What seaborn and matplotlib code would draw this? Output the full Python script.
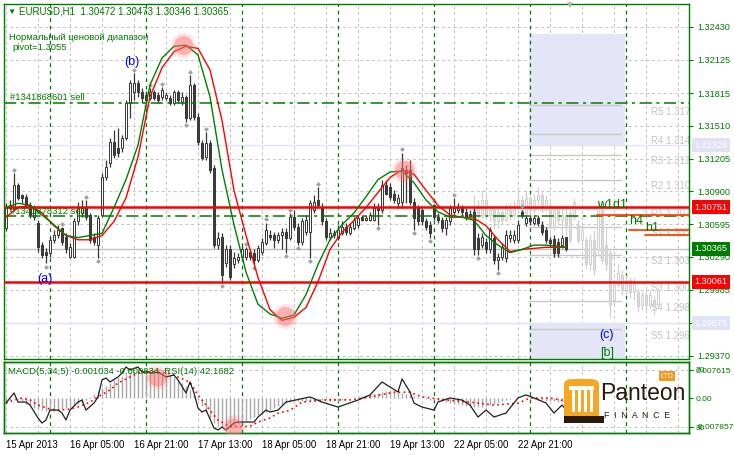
import numpy as np
import seaborn as sns
import matplotlib.pyplot as plt
from matplotlib.patches import Rectangle, FancyBboxPatch

# --- dados do gráfico (EURUSD H1) ---
price_ticks = [1.32430, 1.32125, 1.31815, 1.31510, 1.31205, 1.30900,
               1.30595, 1.30290, 1.29985, 1.29675, 1.29370]
date_tick_bars = [0, 16, 32, 48, 64, 80, 96, 112, 128]
date_tick_labels = ['15 Apr 2013', '16 Apr 05:00', '16 Apr 21:00', '17 Apr 13:00',
                    '18 Apr 05:00', '18 Apr 21:00', '19 Apr 13:00', '22 Apr 05:00',
                    '22 Apr 21:00']
day_start_bars = [11, 35, 59, 83, 107, 131, 155]

opens = [1.3056, 1.3075, 1.3075, 1.3096, 1.3087, 1.3085, 1.3077, 1.3066, 1.3061, 1.3040,
         1.3034, 1.3033, 1.3045, 1.3049, 1.3056, 1.3048, 1.3029, 1.3029, 1.3062, 1.3070,
         1.3075, 1.3068, 1.3048, 1.3040, 1.3068, 1.3103, 1.3116, 1.3136, 1.3130, 1.3130,
         1.3140, 1.3172, 1.3182, 1.3191, 1.3182, 1.3180, 1.3177, 1.3182, 1.3180, 1.3178,
         1.3177, 1.3177, 1.3172, 1.3182, 1.3173, 1.3178, 1.3158, 1.3189, 1.3159, 1.3135,
         1.3122, 1.3135, 1.3112, 1.3040, 1.3048, 1.3023, 1.3036, 1.3022, 1.3026, 1.3029,
         1.3029, 1.3034, 1.3033, 1.3026, 1.3034, 1.3042, 1.3049, 1.3049, 1.3045, 1.3049,
         1.3052, 1.3047, 1.3066, 1.3057, 1.3043, 1.3052, 1.3052, 1.3073, 1.3082, 1.3075,
         1.3062, 1.3048, 1.3049, 1.3047, 1.3051, 1.3057, 1.3051, 1.3056, 1.3059, 1.3066,
         1.3063, 1.3063, 1.3063, 1.3075, 1.3073, 1.3096, 1.3094, 1.3088, 1.3079, 1.3080,
         1.3110, 1.3110, 1.3080, 1.3075, 1.3073, 1.3062, 1.3059, 1.3077, 1.3066, 1.3063,
         1.3056, 1.3062, 1.3071, 1.3073, 1.3075, 1.3071, 1.3069, 1.3071, 1.3047, 1.3040,
         1.3043, 1.3036, 1.3047, 1.3026, 1.3029, 1.3028, 1.3047, 1.3045, 1.3045, 1.3071,
         1.3061, 1.3065, 1.3061, 1.3065, 1.3059, 1.3054, 1.3045, 1.3046, 1.3043, 1.3040,
         1.30472]
highs = [1.3079, 1.3082, 1.3107, 1.3098, 1.3088, 1.3088, 1.3080, 1.3077, 1.3063, 1.3043,
         1.3037, 1.3048, 1.3054, 1.3059, 1.3057, 1.3051, 1.3042, 1.3065, 1.3080, 1.3082,
         1.3082, 1.3070, 1.3051, 1.3068, 1.3107, 1.3119, 1.3140, 1.3147, 1.3149, 1.3142,
         1.3175, 1.3194, 1.3200, 1.3194, 1.3186, 1.3183, 1.3186, 1.3184, 1.3182, 1.3187,
         1.3182, 1.3180, 1.3184, 1.3184, 1.3182, 1.3180, 1.3198, 1.3191, 1.3163, 1.3138,
         1.3145, 1.3138, 1.3115, 1.3052, 1.3051, 1.3040, 1.3040, 1.3034, 1.3033, 1.3040,
         1.3038, 1.3036, 1.3036, 1.3040, 1.3047, 1.3061, 1.3054, 1.3052, 1.3052, 1.3056,
         1.3056, 1.3070, 1.3073, 1.3061, 1.3065, 1.3068, 1.3082, 1.3087, 1.3094, 1.3079,
         1.3065, 1.3056, 1.3054, 1.3059, 1.3062, 1.3061, 1.3061, 1.3066, 1.3068, 1.3068,
         1.3068, 1.3071, 1.3079, 1.3079, 1.3101, 1.3101, 1.3098, 1.3091, 1.3088, 1.3126,
         1.3115, 1.3119, 1.3084, 1.3077, 1.3075, 1.3065, 1.3062, 1.3078, 1.3070, 1.3066,
         1.3066, 1.3077, 1.3084, 1.3079, 1.3077, 1.3075, 1.3073, 1.3075, 1.3051, 1.3051,
         1.3047, 1.3057, 1.3049, 1.3033, 1.3042, 1.3054, 1.3054, 1.3054, 1.3063, 1.3073,
         1.3068, 1.3068, 1.3068, 1.3068, 1.3062, 1.3057, 1.3048, 1.3049, 1.3047, 1.3049,
         1.30473]
lows = [1.3053, 1.3073, 1.3073, 1.3082, 1.3079, 1.3075, 1.3065, 1.3063, 1.3034, 1.3028,
        1.3023, 1.3029, 1.3042, 1.3047, 1.3040, 1.3033, 1.3028, 1.3028, 1.3059, 1.3066,
        1.3063, 1.3042, 1.3040, 1.3028, 1.3066, 1.3101, 1.3113, 1.3121, 1.3122, 1.3127,
        1.3138, 1.3158, 1.3175, 1.3178, 1.3172, 1.3172, 1.3175, 1.3175, 1.3172, 1.3175,
        1.3175, 1.3170, 1.3170, 1.3172, 1.3170, 1.3155, 1.3156, 1.3156, 1.3133, 1.3119,
        1.3119, 1.3107, 1.3037, 1.3036, 1.3005, 1.3020, 1.3008, 1.3019, 1.3023, 1.3026,
        1.3026, 1.3026, 1.3022, 1.3024, 1.3031, 1.3040, 1.3045, 1.3037, 1.3042, 1.3036,
        1.3033, 1.3045, 1.3054, 1.3040, 1.3040, 1.3049, 1.3028, 1.3070, 1.3075, 1.3059,
        1.3045, 1.3045, 1.3047, 1.3045, 1.3049, 1.3049, 1.3049, 1.3054, 1.3056, 1.3062,
        1.3062, 1.3062, 1.3062, 1.3059, 1.3070, 1.3087, 1.3082, 1.3079, 1.3075, 1.3075,
        1.3079, 1.3077, 1.3054, 1.3059, 1.3059, 1.3054, 1.3047, 1.3063, 1.3061, 1.3052,
        1.3049, 1.3059, 1.3068, 1.3070, 1.3068, 1.3063, 1.3065, 1.3031, 1.3031, 1.3037,
        1.3033, 1.3033, 1.3022, 1.3017, 1.3026, 1.3024, 1.3043, 1.3042, 1.3042, 1.3065,
        1.3058, 1.3059, 1.3059, 1.3058, 1.3049, 1.3042, 1.3038, 1.3029, 1.3029, 1.3037,
        1.30346]
closes = [1.3075, 1.3077, 1.3096, 1.3084, 1.3084, 1.3077, 1.3068, 1.3075, 1.3038, 1.3031,
          1.3031, 1.3045, 1.3049, 1.3054, 1.3043, 1.3036, 1.3038, 1.3062, 1.3075, 1.3075,
          1.3066, 1.3045, 1.3043, 1.3065, 1.3103, 1.3113, 1.3136, 1.3124, 1.3126, 1.3140,
          1.3172, 1.3191, 1.3191, 1.3182, 1.3177, 1.3175, 1.3182, 1.3177, 1.3175, 1.3184,
          1.3180, 1.3172, 1.3182, 1.3175, 1.3178, 1.3158, 1.3189, 1.3159, 1.3136, 1.3121,
          1.3135, 1.3110, 1.3040, 1.3047, 1.3012, 1.3036, 1.3010, 1.3028, 1.3029, 1.3036,
          1.3036, 1.3029, 1.3026, 1.3037, 1.3043, 1.3054, 1.3048, 1.3045, 1.3049, 1.3052,
          1.3047, 1.3066, 1.3057, 1.3043, 1.3062, 1.3063, 1.3079, 1.3080, 1.3077, 1.3062,
          1.3048, 1.3051, 1.3051, 1.3054, 1.3057, 1.3052, 1.3057, 1.3063, 1.3065, 1.3063,
          1.3065, 1.3068, 1.3075, 1.3073, 1.3096, 1.3088, 1.3085, 1.3082, 1.3084, 1.3112,
          1.3107, 1.3080, 1.3065, 1.3062, 1.3062, 1.3057, 1.3051, 1.3066, 1.3063, 1.3056,
          1.3063, 1.3075, 1.3075, 1.3075, 1.3071, 1.3066, 1.3067, 1.3036, 1.3036, 1.3048,
          1.3036, 1.3054, 1.3026, 1.3029, 1.3038, 1.3049, 1.3049, 1.3049, 1.3059, 1.3068,
          1.3065, 1.3062, 1.3065, 1.3061, 1.3052, 1.3045, 1.3042, 1.3033, 1.3033, 1.3047,
          1.30365]

# velas "fantasma" (projeção cinza clara)
ghost_start = 117
ghost_open = [1.3068, 1.3077, 1.3068, 1.3082, 1.3068, 1.3073, 1.3062, 1.3071, 1.3063, 1.3074,
              1.3068, 1.3077, 1.3082, 1.3070, 1.3084, 1.3073, 1.3082, 1.3087, 1.3074, 1.3077,
              1.3059, 1.3073, 1.3063, 1.3068, 1.3070, 1.3066, 1.3059, 1.3045, 1.3045, 1.3022,
              1.3045, 1.3036, 1.3077, 1.3040, 1.3033, 1.2989, 1.3003, 1.3012, 1.2998, 1.3008,
              1.2996, 1.2996, 1.2984, 1.2994, 1.2984, 1.2989, 1.2984]
ghost_high = [1.3087, 1.3082, 1.3091, 1.3087, 1.3077, 1.3075, 1.3074, 1.3074, 1.3079, 1.3079,
              1.3082, 1.3091, 1.3087, 1.3091, 1.3087, 1.3088, 1.3094, 1.3091, 1.3087, 1.3082,
              1.3077, 1.3077, 1.3077, 1.3075, 1.3074, 1.3084, 1.3063, 1.3059, 1.3048, 1.3049,
              1.3054, 1.3082, 1.3082, 1.3056, 1.3036, 1.3008, 1.3022, 1.3017, 1.3012, 1.3010,
              1.3009, 1.3000, 1.2996, 1.2998, 1.2998, 1.2994, 1.3000]
ghost_low = [1.3065, 1.3063, 1.3065, 1.3065, 1.3062, 1.3056, 1.3056, 1.3059, 1.3062, 1.3063,
             1.3065, 1.3074, 1.3068, 1.3068, 1.3068, 1.3070, 1.3077, 1.3071, 1.3071, 1.3045,
             1.3054, 1.3059, 1.3049, 1.3045, 1.3042, 1.3063, 1.3042, 1.3036, 1.3019, 1.3017,
             1.3012, 1.3031, 1.3022, 1.3017, 1.2972, 1.2984, 1.3001, 1.2994, 1.2994, 1.2991,
             1.2989, 1.2978, 1.2980, 1.2980, 1.2982, 1.2975, 1.2982]
ghost_close = [1.3077, 1.3068, 1.3082, 1.3068, 1.3073, 1.3062, 1.3071, 1.3063, 1.3074, 1.3068,
               1.3077, 1.3082, 1.3070, 1.3084, 1.3073, 1.3082, 1.3087, 1.3074, 1.3082, 1.3059,
               1.3073, 1.3063, 1.3068, 1.3059, 1.3045, 1.3080, 1.3045, 1.3054, 1.3022, 1.3045,
               1.3017, 1.3077, 1.3026, 1.3022, 1.2984, 1.3003, 1.3014, 1.2998, 1.3008, 1.2996,
               1.3005, 1.2983, 1.2994, 1.2984, 1.2994, 1.2984, 1.2998]

# médias (verde rápida, vermelha lenta)
ma_bars = [0, 3, 6, 9, 12, 15, 18, 21, 24, 27, 30, 33, 36, 39, 42, 45, 48, 51, 54, 57,
           60, 63, 66, 69, 72, 75, 78, 81, 84, 87, 90, 93, 96, 99, 102, 105, 108, 111,
           114, 117, 120, 123, 126, 129, 132, 135, 138, 140]
ma_fast = [1.3075, 1.3079, 1.3077, 1.3068, 1.3059, 1.3049, 1.3047, 1.3049, 1.3051, 1.3075,
           1.3101, 1.3133, 1.3189, 1.3214, 1.3225, 1.3226, 1.3217, 1.3178, 1.3110, 1.3059,
           1.3015, 1.2985, 1.2976, 1.2972, 1.2975, 1.2994, 1.3022, 1.3045, 1.3059, 1.3070,
           1.3085, 1.3101, 1.3108, 1.3109, 1.3098, 1.3082, 1.3071, 1.3066, 1.3066, 1.3063,
           1.3049, 1.3040, 1.3033, 1.3036, 1.3040, 1.3040, 1.3039, 1.3038]
ma_slow = [1.3066, 1.3075, 1.3077, 1.3070, 1.3058, 1.3049, 1.3045, 1.3045, 1.3049, 1.3062,
           1.3084, 1.3122, 1.3178, 1.3205, 1.3220, 1.3225, 1.3223, 1.3203, 1.3156, 1.3091,
           1.3049, 1.3010, 1.2980, 1.2970, 1.2973, 1.2982, 1.3006, 1.3036, 1.3052, 1.3063,
           1.3075, 1.3089, 1.3103, 1.3110, 1.3106, 1.3091, 1.3077, 1.3068, 1.3066, 1.3065,
           1.3058, 1.3045, 1.3034, 1.3036, 1.3037, 1.3038, 1.3038, 1.3038]

frac_up_bars = [2, 14, 20, 32, 36, 39, 46, 50, 60, 65, 71, 78, 99, 107, 112, 129]
frac_up_prices = [1.3110, 1.3060, 1.3085, 1.3203, 1.3189, 1.3190, 1.3201, 1.3148, 1.3041,
                  1.3064, 1.3073, 1.3097, 1.3129, 1.3081, 1.3087, 1.3076]
frac_dn_bars = [10, 23, 35, 45, 54, 62, 70, 73, 76, 93, 102, 106, 118, 123]
frac_dn_prices = [1.3020, 1.3025, 1.3169, 1.3152, 1.3002, 1.3019, 1.3030, 1.3037, 1.3025,
                  1.3056, 1.3051, 1.3044, 1.3028, 1.3014]

cross_bars = [44.25, 69.75, 99.5]
cross_prices = [1.3226, 1.2974, 1.3110]

# níveis horizontais
red_levels = [1.30751, 1.30061]
current_price = 1.30365
zone_levels = [1.31328, 1.29675]
sell_levels = [1.31722, 1.30671]
sell_labels = ['#1341868601 sell', '#1341878312 sell']
piv_names = ['R5', 'R4', 'R3', 'R2', 'R1', 'S1', 'S2', 'S3', 'S4', 'S5']
piv_vals = [1.3170, 1.3143, 1.3124, 1.3101, 1.3075, 1.3057, 1.3031, 1.3006, 1.2988, 1.2962]
tf_names = ['w1d1', 'h4', 'h1']
tf_levels = [1.30680, 1.30540, 1.30490]
tf_start = [147.75, 155.75, 159.75]

# indicadores
macd_main = [-0.0010, -0.0004, 0.0000, -0.0003, -0.0009, -0.0015, -0.0021, -0.0026, -0.0030, -0.0033,
             -0.0035, -0.0035, -0.0034, -0.0032, -0.0030, -0.0027, -0.0024, -0.0020, -0.0015, -0.0010,
             -0.0004, 0.0003, 0.0010, 0.0018, 0.0026, 0.0034, 0.0042, 0.0049, 0.0055, 0.0061,
             0.0066, 0.0070, 0.0073, 0.0075, 0.0076, 0.0076, 0.0075, 0.0073, 0.0071, 0.0069,
             0.0066, 0.0062, 0.0057, 0.0050, 0.0042, 0.0033, 0.0022, 0.0009, -0.0006, -0.0022,
             -0.0039, -0.0055, -0.0067, -0.0075, -0.0078, -0.0079, -0.0078, -0.0075, -0.0071, -0.0067,
             -0.0062, -0.0057, -0.0052, -0.0047, -0.0042, -0.0037, -0.0032, -0.0027, -0.0022, -0.0018,
             -0.0014, -0.0011, -0.0009, -0.0008, -0.0008, -0.0008, -0.0008, -0.0007, -0.0006, -0.0005,
             -0.0006, -0.0007, -0.0008, -0.0007, -0.0005, -0.0003, -0.0001, 0.0001, 0.0004, 0.0006,
             0.0008, 0.0010, 0.0012, 0.0014, 0.0016, 0.0018, 0.0018, 0.0017, 0.0016, 0.0014,
             0.0012, 0.0009, 0.0006, 0.0002, -0.0001, -0.0003, -0.0005, -0.0006, -0.0007, -0.0009,
             -0.0011, -0.0013, -0.0015, -0.0017, -0.0019, -0.0021, -0.0023, -0.0024, -0.0024, -0.0023,
             -0.0021, -0.0018, -0.0015, -0.0012, -0.0009, -0.0006, -0.0003, -0.0001, 0.0001, 0.0001,
             0.0000, -0.0002, -0.0003, -0.0005, -0.0006, -0.0007, -0.0008, -0.0009, -0.0010, -0.0010,
             -0.0010]
signal_bars = [0, 2, 4, 6, 8, 11, 13, 16, 18, 21, 23, 26, 28, 31, 33, 36, 38, 41, 43, 46,
               48, 51, 53, 56, 58, 61, 63, 66, 68, 71, 74, 80, 86, 91, 97, 101, 104, 110,
               116, 122, 128, 131, 136, 140]
signal_vals = [-0.0014, -0.0005, 0.0000, -0.0005, -0.0019, -0.0030, -0.0033, -0.0030, -0.0024,
               -0.0011, 0.0003, 0.0022, 0.0041, 0.0057, 0.0068, 0.0072, 0.0070, 0.0066, 0.0057,
               0.0043, 0.0008, -0.0033, -0.0060, -0.0077, -0.0078, -0.0077, -0.0065, -0.0054,
               -0.0041, -0.0033, -0.0011, -0.0005, -0.0005, 0.0003, 0.0016, 0.0016, 0.0003,
               -0.0005, -0.0011, -0.0019, -0.0014, 0.0000, 0.0000, -0.0008]
rsi_bars = [0, 2, 3, 5, 6, 8, 9, 10, 11, 13, 14, 15, 16, 18, 19, 20, 22, 23, 24, 25,
            26, 28, 29, 30, 31, 33, 34, 35, 37, 38, 40, 42, 43, 45, 46, 47, 48, 49, 50, 52,
            53, 54, 55, 57, 58, 60, 62, 63, 65, 66, 68, 70, 76, 79, 83, 88, 91, 94, 96, 98,
            99, 101, 102, 104, 107, 108, 111, 114, 116, 118, 120, 122, 125, 128, 130, 132, 135,
            137, 139, 140]
rsi_vals = [46.8, 53.9, 47.5, 47.5, 45.4, 36.3, 32.8, 34.9, 41.9, 41.9, 39.8, 34.9, 41.9, 47.5,
            48.9, 41.9, 46.8, 51.1, 63.0, 64.4, 61.6, 65.1, 67.9, 72.1, 70.0, 72.1, 68.6, 68.6,
            67.9, 68.6, 65.1, 66.5, 63.0, 53.9, 61.6, 53.9, 43.3, 40.5, 41.9, 29.3, 27.9, 30.0,
            27.9, 32.8, 33.5, 33.5, 33.5, 37.0, 41.9, 40.5, 41.9, 47.5, 51.1, 47.5, 44.0, 48.9,
            52.5, 61.6, 58.1, 54.6, 63.7, 54.6, 46.8, 44.0, 41.9, 47.5, 50.4, 48.9, 45.4, 37.0,
            41.9, 37.0, 39.8, 50.4, 52.5, 50.4, 46.8, 39.8, 45.4, 42.2]
rsi_cross_bars = [37.75, 56.75]
rsi_cross_vals = [65.1, 30.0]

# --- estilo ---
sns.set_theme(style='white')
plt.rcParams['font.family'] = ['Liberation Sans', 'DejaVu Sans']
GREEN = '#007a00'
GRID = '#c4c4c4'
W, H = 734, 455


def fx(px):
    return px / W


def fy(py):
    return 1 - py / H


fig = plt.figure(figsize=(W / 100, H / 100), dpi=100, facecolor='white')
ax = fig.add_axes([fx(4), fy(359), fx(689) - fx(4), fy(4) - fy(359)])
ax_m = fig.add_axes([fx(4), fy(433), fx(689) - fx(4), fy(362) - fy(433)], sharex=ax)
ax_r = ax_m.twinx()

xlim = (-0.5, 170.75)
ax.set_xlim(*xlim)
ax.set_ylim(1.29341, 1.32643)

# grade
for a in (ax, ax_m):
    for b in range(0, 171, 8):
        a.axvline(b, color=GRID, lw=0.7, ls=(0, (3, 3)), zorder=0)
    for b in day_start_bars:
        a.axvline(b, color=GREEN, lw=0.9, ls=(0, (3, 3)), zorder=1)
for p in price_ticks:
    ax.axhline(p, color=GRID, lw=0.7, ls=(0, (3, 3)), zorder=0)

# zonas lavanda e níveis
ax.add_patch(Rectangle((130.75, zone_levels[0]), 24, 1.3236 - zone_levels[0],
                       color='#e4e6f8', lw=0, zorder=0.5))
ax.add_patch(Rectangle((130.75, 1.28), 24, zone_levels[1] - 1.28,
                       color='#e4e6f8', lw=0, zorder=0.5))
for z in zone_levels:
    ax.axhline(z, color='#e0e2f6', lw=1, zorder=0.6)
ax.axhline(current_price, color='#c0c0c0', lw=1, zorder=0.8)
for name, v in zip(piv_names, piv_vals):
    ax.plot([130.75, 153.75], [v, v], color='#c8c8c8', lw=1, zorder=0.8)
    ax.text(161.25, v - 0.00015, f'{name} {v:.4f}', color='#c4c4c4', fontsize=7,
            va='top', ha='left', clip_on=True, zorder=0.8)

for v, lab in zip(sell_levels, sell_labels):
    ax.axhline(v, color=GREEN, lw=1.1, ls=(0, (8, 3, 2, 3)), zorder=3)
for v in red_levels:
    ax.axhline(v, color='red', lw=1.8, zorder=3)
for name, v, s in zip(tf_names, tf_levels, tf_start):
    ax.plot([s, xlim[1]], [v, v], color='#ff4500', lw=1.3, zorder=3)


def draw_candles(a, bars, o, h, l, c, up_face, dn_face, edge, z):
    o, h, l, c = map(np.asarray, (o, h, l, c))
    a.vlines(bars, l, h, color=edge, lw=0.9, zorder=z)
    bottom = np.minimum(o, c)
    height = np.maximum(np.abs(c - o), 0.00004)
    face = np.where(c >= o, up_face, dn_face)
    a.bar(bars, height, bottom=bottom, width=0.72, color=face, edgecolor=edge,
          linewidth=0.7, zorder=z + 0.1)


gbars = np.arange(ghost_start, ghost_start + len(ghost_open))
draw_candles(ax, gbars, ghost_open, ghost_high, ghost_low, ghost_close,
             '#f6f6f6', '#dcdcdc', '#d0d0d0', 1)
bars = np.arange(len(opens))
draw_candles(ax, bars, opens, highs, lows, closes, 'white', '#404040', '#363636', 2)

ax.scatter(frac_up_bars, frac_up_prices, marker='D', s=6, color='#a0a0a0', zorder=4, lw=0)
ax.scatter(frac_dn_bars, frac_dn_prices, marker='D', s=6, color='#a0a0a0', zorder=4, lw=0)

sns.lineplot(x=ma_bars, y=ma_slow, ax=ax, color='red', lw=1, zorder=5)
sns.lineplot(x=ma_bars, y=ma_fast, ax=ax, color='green', lw=1, zorder=5)
ax.scatter(cross_bars, cross_prices, s=330, color='#ff6060', alpha=0.15, lw=0, zorder=6)
ax.scatter(cross_bars, cross_prices, s=190, color='#ff7070', alpha=0.45, lw=0, zorder=6)

# eixo de preços à direita (o rótulo 1.29675 fica na caixa lavanda)
ax.yaxis.tick_right()
ax.set_yticks(price_ticks)
ax.set_yticklabels(['' if p == zone_levels[1] else f'{p:.5f}' for p in price_ticks])
ax.tick_params(axis='y', colors=GREEN, labelcolor=GREEN, labelsize=6.6, length=3,
               width=0.8, direction='out', pad=3)
ax.tick_params(axis='x', bottom=False, labelbottom=False)
ax.set_xlabel('')
ax.set_ylabel('')
for sp in ax.spines.values():
    sp.set_color(GREEN)
    sp.set_linewidth(1)

tr = ax.get_yaxis_transform()
box_labels = [(red_levels[0], '1.30751', 'red'), (red_levels[1], '1.30061', 'red'),
              (current_price, '1.30365', '#007a00'), (zone_levels[0], '1.31328', '#e0e2f6'),
              (zone_levels[1], '1.29675', '#e0e2f6')]
for v, t, col in box_labels:
    ax.text(1.008, v, t, transform=tr, color='white', fontsize=6.6, va='center', ha='left',
            bbox=dict(boxstyle='square,pad=0.28', fc=col, ec='none'), zorder=10, clip_on=False)

# --- painel MACD / RSI ---
ax_m.set_ylim(-0.00949, 0.00979)
ax_m.vlines(bars, 0, macd_main, color='#a8a8a8', lw=1, zorder=2)
sns.lineplot(x=signal_bars, y=signal_vals, ax=ax_m, color='red', lw=1.2,
             linestyle=(0, (1, 2)), zorder=3)
ax_r.set_ylim(25.8, 75.6)
for lv in (70, 30):
    ax_r.axhline(lv, color=GRID, lw=0.7, ls=(0, (3, 3)), zorder=0)
sns.lineplot(x=rsi_bars, y=rsi_vals, ax=ax_r, color='#202020', lw=0.9, zorder=4)
ax_r.scatter(rsi_cross_bars, rsi_cross_vals, s=300, color='#ff6060', alpha=0.15, lw=0, zorder=6)
ax_r.scatter(rsi_cross_bars, rsi_cross_vals, s=170, color='#ff7070', alpha=0.45, lw=0, zorder=6)
ax_m.set_xlim(*xlim)

ax_m.yaxis.tick_right()
ax_m.set_yticks([0.007615, 0.0, -0.007857])
ax_m.set_yticklabels(['0.007615', '0.00', '-0.007857'])
ax_r.set_yticks([70, 30])
ax_r.set_yticklabels(['70', '30'])
for a in (ax_m, ax_r):
    a.tick_params(axis='y', colors=GREEN, labelcolor=GREEN, labelsize=6.1, length=3,
                  width=0.8, direction='out', pad=1.5)
    a.set_ylabel('')
    for sp in a.spines.values():
        sp.set_color(GREEN)
        sp.set_linewidth(1)
ax_m.set_xticks(date_tick_bars)
ax_m.set_xticklabels(date_tick_labels, ha='left')
ax_m.tick_params(axis='x', colors=GREEN, labelcolor='black', labelsize=6.9, length=3,
                 width=0.8, direction='out', pad=2)
ax_m.set_xlabel('')
ax_r.set_xlabel('')

# --- textos ---
fig.text(fx(7), fy(12), '▼', color=GREEN, fontsize=6, va='center')
fig.text(fx(19), fy(12), 'EURUSD,H1  1.30472 1.30473 1.30346 1.30365', color=GREEN,
         fontsize=7, va='center')
fig.text(fx(9), fy(37), 'Нормальный ценовой диапазон', color=GREEN, fontsize=6.8, va='center')
fig.text(fx(12), fy(48), 'pivot=1.3055', color=GREEN, fontsize=6.8, va='center')
fig.text(fx(10), fy(98), sell_labels[0], color=GREEN, fontsize=6.8, va='center')
fig.text(fx(10), fy(211), sell_labels[1], color=GREEN, fontsize=6.8, va='center', zorder=1)
fig.text(fx(569), fy(5), '▼', color='#b0b0b0', fontsize=7, va='center', ha='center')
for t, xp, yp in zip(tf_names, [597, 629, 645], [205, 221, 228]):
    fig.text(fx(xp), fy(yp), t, color=GREEN, fontsize=9, va='center')
fig.text(fx(45), fy(279), '(a)', color='blue', fontsize=9, va='center', ha='center')
fig.text(fx(132), fy(62), '(b)', color='blue', fontsize=9, va='center', ha='center')
fig.text(fx(607), fy(335), '(c)', color='blue', fontsize=9, va='center', ha='center')
fig.text(fx(607), fy(353), '[b]', color=GREEN, fontsize=9, va='center', ha='center')
fig.text(fx(8), fy(371), 'MACD(5,34,5) -0.001034 -0.000834  RSI(14) 42.1682', color=GREEN,
         fontsize=6.8, va='center')

# logotipo
fig.patches.append(FancyBboxPatch((fx(564), fy(421)), fx(35), fy(379) - fy(421),
                                  boxstyle='round,pad=0,rounding_size=0.012',
                                  fc='#f6a623', ec='none', transform=fig.transFigure))
for cx in [572, 578, 584, 590]:
    fig.patches.append(Rectangle((fx(cx), fy(412)), fx(2.5), fy(390) - fy(412),
                                 fc='white', ec='none', transform=fig.transFigure))
fig.patches.append(Rectangle((fx(569), fy(390)), fx(25), fy(386) - fy(390),
                             fc='white', ec='none', transform=fig.transFigure))
fig.patches.append(Rectangle((fx(564), fy(423)), fx(40), fy(416) - fy(423),
                             fc='#2a1a0c', ec='none', transform=fig.transFigure))
fig.text(fx(600), fy(394), 'Panteon', color='#2a1a0c', fontsize=16.5, va='center')
fig.text(fx(604), fy(416), 'F  I  N  A  N  C  E', color='#2a1a0c', fontsize=6.3, va='center')
fig.text(fx(667), fy(376), 'LTD', color='white', fontsize=5, va='center', ha='center',
         bbox=dict(boxstyle='square,pad=0.25', fc='#f39a1e', ec='none'))

fig.savefig('out.png', dpi=100, facecolor='white')
